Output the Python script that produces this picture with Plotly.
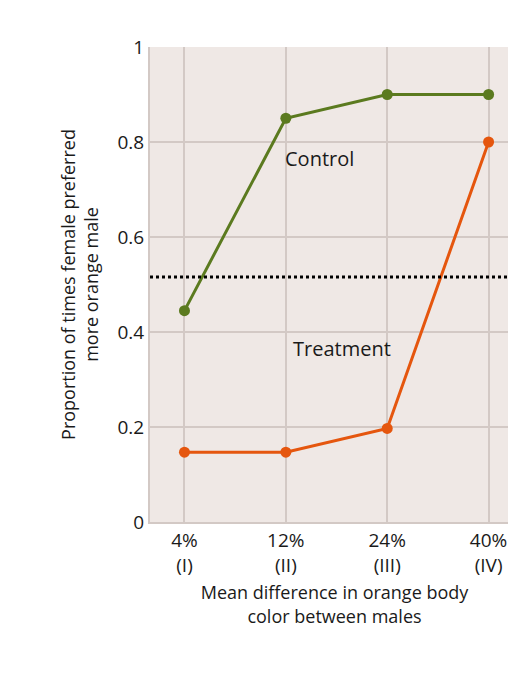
import plotly.graph_objects as go

categories = ["4%<br>(I)", "12%<br>(II)", "24%<br>(III)", "40%<br>(IV)"]
control = [0.445, 0.85, 0.90, 0.90]
treatment = [0.147, 0.147, 0.197, 0.80]
chance_level = 0.516

green = "#5b7a1f"
orange = "#e5560e"
xs = list(range(len(categories)))

fig = go.Figure()
fig.add_trace(go.Scatter(x=xs, y=control, mode="lines+markers",
                         line=dict(color=green, width=3), marker=dict(size=11, color=green)))
fig.add_trace(go.Scatter(x=xs, y=treatment, mode="lines+markers",
                         line=dict(color=orange, width=3), marker=dict(size=11, color=orange)))
fig.add_shape(type="line", xref="paper", x0=0, x1=1, y0=chance_level, y1=chance_level,
              line=dict(color="black", width=3, dash="dot"))

fig.add_annotation(x=1.33, y=0.765, text="Control", showarrow=False, font=dict(size=20))
fig.add_annotation(x=1.55, y=0.365, text="Treatment", showarrow=False, font=dict(size=20))
fig.add_annotation(xref="paper", yref="paper", x=-0.42, y=0.63, text="<b>t</b>", showarrow=False,
                   font=dict(size=30, color="black"), xanchor="right")

fig.update_layout(
    width=516, height=674, showlegend=False,
    margin=dict(l=142, r=5, t=39, b=160),
    plot_bgcolor="#efe8e5", paper_bgcolor="white",
    font=dict(family="Open Sans", size=19, color="#1a1a1a"),
    xaxis=dict(tickvals=xs, ticktext=categories, range=[-0.34, 3.3],
               showgrid=True, gridcolor="#d3c9c5", gridwidth=2, zeroline=False,
               showline=True, linecolor="#d3c9c5", linewidth=2,
               title=dict(text="Mean difference in orange body<br>color between males",
                          standoff=10, font=dict(size=18))),
    yaxis=dict(range=[0, 1], tickvals=[0, 0.2, 0.4, 0.6, 0.8, 1],
               ticktext=["0", "0.2", "0.4", "0.6", "0.8", "1"],
               showgrid=True, gridcolor="#d3c9c5", gridwidth=2, zeroline=False,
               showline=True, linecolor="#d3c9c5", linewidth=2, ticks="", ticklen=0,
               title=dict(text="Proportion of times female preferred<br>more orange male",
                          standoff=14, font=dict(size=18))),
)
fig.write_html("out.html")
